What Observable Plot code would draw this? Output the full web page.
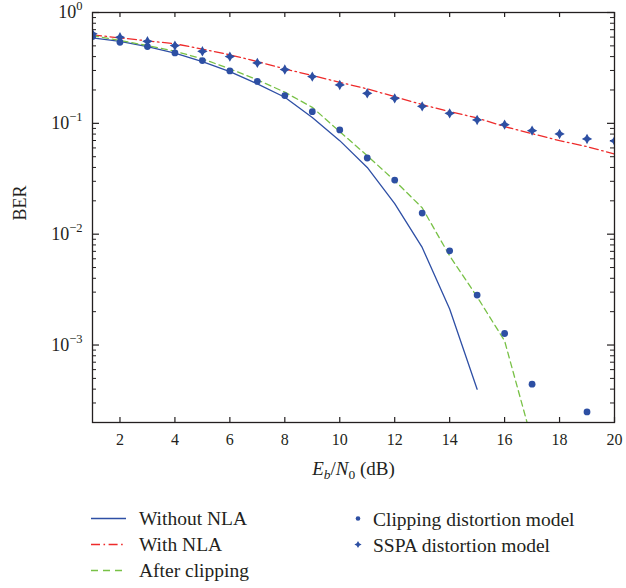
<!DOCTYPE html>
<html>
<head>
<meta charset="utf-8">
<script src="https://cdn.jsdelivr.net/npm/d3@7"></script>
<script src="https://cdn.jsdelivr.net/npm/@observablehq/plot@0.6"></script>
<style>
  html, body { margin: 0; padding: 0; background: #fff; }
  #wrap { position: relative; width: 626px; height: 588px; background: #fff; }
  #wrap svg { display: block; }
</style>
</head>
<body>
<div id="wrap"></div>
<script>
// ---------------- data ----------------
const ebn0 = [1, 2, 3, 4, 5, 6, 7, 8, 9, 10, 11, 12, 13, 14, 15, 16, 17, 18, 19, 20];

// Without NLA (solid blue), Eb/N0 = 1..15
const berWithoutNLA = [0.590, 0.550, 0.493, 0.429, 0.361, 0.293, 0.227, 0.172, 0.113, 0.0698,
                       0.0400, 0.0189, 0.00759, 0.00211, 0.000399];
// With NLA (red dash-dot), Eb/N0 = 1..20
const berWithNLA = [0.629, 0.590, 0.555, 0.522, 0.468, 0.415, 0.361, 0.310, 0.270, 0.2346,
                    0.2046, 0.174, 0.1476, 0.1275, 0.1119, 0.0934, 0.0807, 0.0698, 0.0616, 0.0529];
// After clipping (green dashed), Eb/N0 = 1..17
const berAfterClipping = [0.620, 0.559, 0.503, 0.447, 0.382, 0.310, 0.247, 0.191, 0.1395, 0.0841,
                          0.0511, 0.0304, 0.0173, 0.00638, 0.00272, 0.00109, 0.000137];
// Clipping distortion model (circles)
const clipModelX = [1, 2, 3, 4, 5, 6, 7, 8, 9, 10, 11, 12, 13, 14, 15, 16, 17, 19];
const clipModelBER = [0.607, 0.539, 0.493, 0.432, 0.368, 0.297, 0.2395, 0.178, 0.1275, 0.0872,
                      0.0487, 0.0308, 0.0155, 0.00708, 0.00282, 0.00127, 0.000443, 0.000249];
// SSPA distortion model (stars), Eb/N0 = 1..20
const sspaModelBER = [0.642, 0.598, 0.550, 0.503, 0.447, 0.400, 0.351, 0.306, 0.264, 0.222,
                      0.1866, 0.168, 0.1424, 0.1231, 0.1073, 0.0973, 0.0859, 0.0802, 0.0723, 0.0693];

const xTicks = [2, 4, 6, 8, 10, 12, 14, 16, 18, 20];
const yTicks = [1, 0.1, 0.01, 0.001];
const yTickExponents = ["0", "\u22121", "\u22122", "\u22123"];
const yMinorMantissas = [2, 3, 4, 5, 6, 7, 8, 9];
const yMinorDecades = [0.0001, 0.001, 0.01, 0.1];

const seriesNames = ["Without NLA", "With NLA", "After clipping"];
const markerNames = ["Clipping distortion model", "SSPA distortion model"];

// ---------------- styles ----------------
const ink = "#231f20";
const blue = "#2e4fa5";
const red = "#ee2b2b";
const green = "#78c146";
const markerBlue = "#2d4fa3";
const redDash = "9,3.5,1.6,3.5";
const greenDash = "6,4";
const serif = '"Liberation Serif", "DejaVu Serif", serif';

const W = 626, H = 490, mL = 92, mR = 12, mT = 12, mB = 68;
const plotW = W - mL - mR, plotH = H - mT - mB;
const majorLen = 7, minorLen = 4, xTickLen = 5;

const yMinor = [];
for (const d of yMinorDecades) for (const m of yMinorMantissas) {
  const v = +(m * d).toPrecision(3);
  if (v >= 2e-4 && v < 1) yMinor.push(v);
}

const rows = (xs, ys) => ys.map((y, i) => ({x: xs[i], y}));
const lineWithout = rows(ebn0, berWithoutNLA);
const lineWith = rows(ebn0, berWithNLA);
const lineAfter = rows(ebn0, berAfterClipping);
const ptsClip = rows(clipModelX, clipModelBER);
const ptsSSPA = rows(ebn0, sspaModelBER);

const star4 = {
  draw(context, size) {
    const r = Math.sqrt(size / Math.PI);
    const w = r * 0.36;
    context.moveTo(0, -r);
    context.lineTo(w, -w);
    context.lineTo(r, 0);
    context.lineTo(w, w);
    context.lineTo(0, r);
    context.lineTo(-w, w);
    context.lineTo(-r, 0);
    context.lineTo(-w, -w);
    context.closePath();
  }
};

const tickStyle = {stroke: ink, strokeWidth: 1.2};

const chart = Plot.plot({
  width: W,
  height: H,
  marginLeft: mL,
  marginRight: mR,
  marginTop: mT,
  marginBottom: mB,
  style: {fontFamily: serif, color: ink, background: "#fff", overflow: "visible"},
  x: {domain: [1, 20], label: null},
  y: {type: "log", domain: [2e-4, 1], label: null},
  axis: null,
  marks: [
    // inward ticks (bottom / top)
    Plot.ruleX(xTicks, {x: d => d, insetTop: plotH - xTickLen, ...tickStyle}),
    Plot.ruleX(xTicks, {x: d => d, insetBottom: plotH - xTickLen, ...tickStyle}),
    // inward ticks (left / right), major and minor
    Plot.ruleY(yTicks, {y: d => d, insetRight: plotW - majorLen, ...tickStyle}),
    Plot.ruleY(yTicks, {y: d => d, insetLeft: plotW - majorLen, ...tickStyle}),
    Plot.ruleY(yMinor, {y: d => d, insetRight: plotW - minorLen, stroke: ink, strokeWidth: 1}),
    Plot.ruleY(yMinor, {y: d => d, insetLeft: plotW - minorLen, stroke: ink, strokeWidth: 1}),
    // tick labels
    Plot.axisX(xTicks, {anchor: "bottom", tickSize: 0, tickPadding: 11, label: null, fontSize: 16, fill: ink}),
    Plot.axisY(yTicks, {anchor: "left", tickSize: 0, tickPadding: 10, label: null, fontSize: 18, fill: ink,
      tickFormat: (d, i) => "10^" + yTickExponents[yTicks.indexOf(d)]}),
    // data
    Plot.line(lineWithout, {x: "x", y: "y", stroke: blue, strokeWidth: 1.3, clip: true}),
    Plot.line(lineWith, {x: "x", y: "y", stroke: red, strokeWidth: 1.3, strokeDasharray: redDash, clip: true}),
    Plot.line(lineAfter, {x: "x", y: "y", stroke: green, strokeWidth: 1.3, strokeDasharray: greenDash, clip: true}),
    Plot.dot(ptsClip, {x: "x", y: "y", r: 3.4, fill: markerBlue, stroke: null, clip: true}),
    Plot.dot(ptsSSPA, {x: "x", y: "y", r: 5.2, symbol: star4, fill: markerBlue, stroke: null, clip: true}),
    Plot.frame({stroke: ink, strokeWidth: 1.3}),
    // axis titles
    Plot.text(["Eb/N0 (dB)"], {frameAnchor: "bottom", dy: 52, text: d => d, fontSize: 19, fill: ink}),
    Plot.text(["BER"], {frameAnchor: "left", dx: -72, dy: 3, rotate: -90, text: d => d, fontSize: 18, fill: ink})
  ]
});

document.getElementById("wrap").appendChild(chart);

const svgNS = "http://www.w3.org/2000/svg";
chart.querySelectorAll("text").forEach(t => {
  const s = t.textContent;
  if (s.includes("^")) {
    // superscript exponents on y tick labels
    const [base, exp] = s.split("^");
    t.textContent = base;
    const sup = document.createElementNS(svgNS, "tspan");
    sup.setAttribute("font-size", "12.5");
    sup.setAttribute("dy", "-8");
    sup.textContent = exp;
    t.appendChild(sup);
  } else if (s === "Eb/N0 (dB)") {
    // italic / subscript formatting of the x-axis title
    t.textContent = "";
    const parts = [
      {s: "E", italic: true},
      {s: "b", italic: true, sub: true, dy: 4},
      {s: "/", dy: -4},
      {s: "N", italic: true},
      {s: "0", sub: true, dy: 4},
      {s: " (dB)", dy: -4}
    ];
    for (const p of parts) {
      const ts = document.createElementNS(svgNS, "tspan");
      if (p.italic) ts.setAttribute("font-style", "italic");
      if (p.sub) ts.setAttribute("font-size", "13.5");
      if (p.dy) ts.setAttribute("dy", p.dy);
      ts.textContent = p.s;
      t.appendChild(ts);
    }
  }
});

// ---------------- legend (below the chart) ----------------
const leg = d3.select("#wrap").append("svg")
  .attr("width", 626).attr("height", 98)
  .style("font-family", serif).style("font-size", "19.5px").style("fill", ink);

const lineStyles = [
  {stroke: blue, dash: null},
  {stroke: red, dash: redDash},
  {stroke: green, dash: "7,5"}
];
seriesNames.forEach((name, i) => {
  const cy = 28.5 + i * 26;
  leg.append("line")
    .attr("x1", 91).attr("x2", 126).attr("y1", cy).attr("y2", cy)
    .attr("stroke", lineStyles[i].stroke).attr("stroke-width", 1.3)
    .attr("stroke-dasharray", lineStyles[i].dash);
  leg.append("text").attr("x", 139).attr("y", cy + 6.5).attr("fill", ink).text(name);
});
markerNames.forEach((name, i) => {
  const cy = 28.5 + i * 26;
  if (i === 0) {
    leg.append("circle").attr("cx", 358).attr("cy", cy).attr("r", 2.3).attr("fill", markerBlue);
  } else {
    const p = d3.path();
    star4.draw(p, Math.PI * 3.6 * 3.6);
    leg.append("path").attr("d", p.toString()).attr("transform", `translate(358,${cy})`).attr("fill", markerBlue);
  }
  leg.append("text").attr("x", 373).attr("y", cy + 7).attr("fill", ink).text(name);
});
</script>
</body>
</html>
